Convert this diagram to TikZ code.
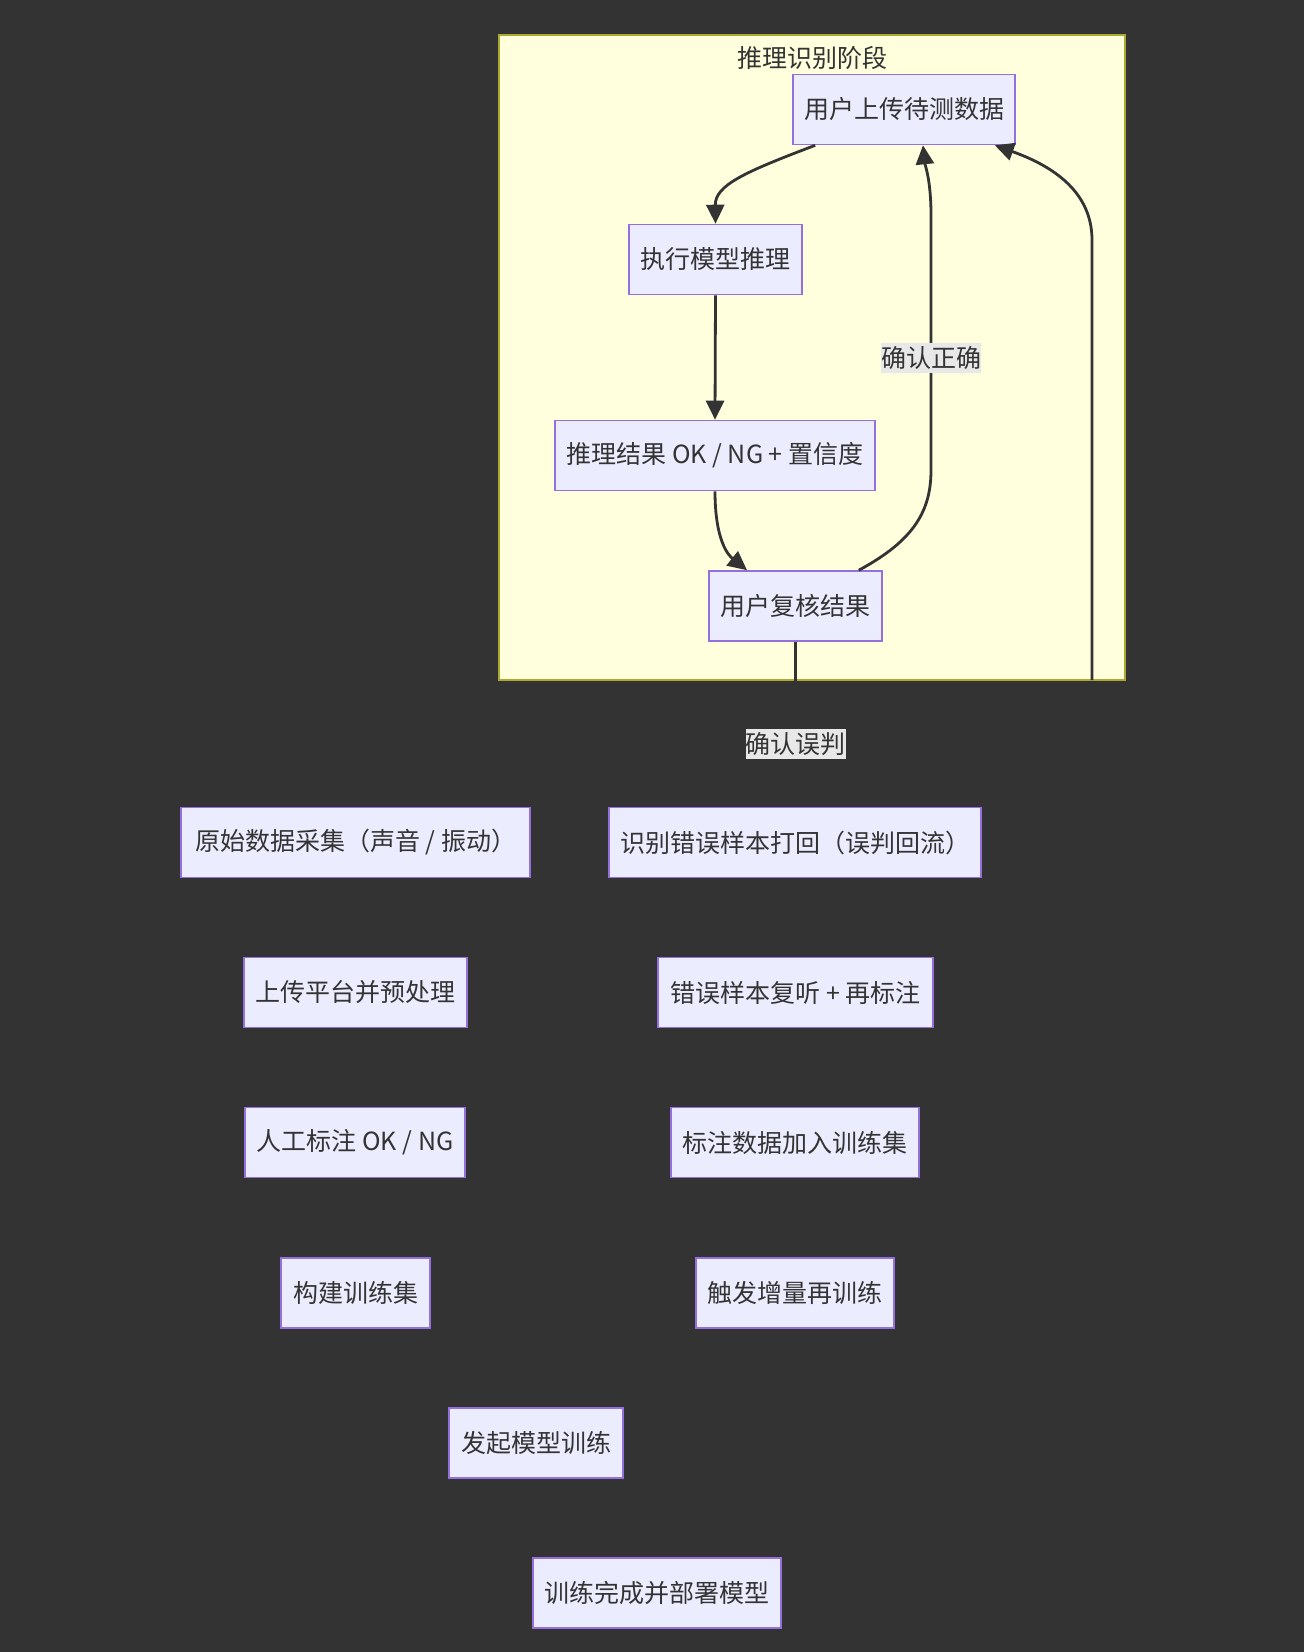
\documentclass[tikz,border=0pt]{standalone}
\usepackage{fontspec}
\setmainfont{Noto Sans CJK SC}
\usetikzlibrary{arrows.meta}
\definecolor{bg}{HTML}{333333}
\definecolor{clfill}{HTML}{FFFFDE}
\definecolor{clborder}{HTML}{AAAA33}
\definecolor{nfill}{HTML}{ECECFF}
\definecolor{nborder}{HTML}{9370DB}
\definecolor{txt}{HTML}{333333}
\definecolor{lblbg}{HTML}{E8E8E8}
\begin{document}
\begin{tikzpicture}[x=1pt,y=-1pt,
  box/.style={draw=nborder, fill=nfill, line width=1.6pt, minimum height=70pt, inner sep=0pt, text=txt, font=\fontsize{25}{30}\selectfont},
  lbl/.style={fill=lblbg, inner sep=0pt, minimum height=30pt, minimum width=98pt, text=txt, font=\fontsize{25}{30}\selectfont},
  edge/.style={draw=txt, line width=2.8pt, -{Triangle[length=19pt,width=18pt]}},
  plainedge/.style={draw=txt, line width=2.8pt}]
\useasboundingbox (0,0) rectangle (1304,1652);
\fill[bg] (0,0) rectangle (1304,1652);
% cluster
\node[draw=clborder, fill=clfill, line width=1.6pt, minimum width=626pt, minimum height=645pt, inner sep=0pt] (cl) at (812,357.5) {};
\node[text=txt, font=\fontsize{25}{30}\selectfont, inner sep=0pt] (cltitle) at (812,58) {推理识别阶段};
% nodes in cluster
\node[box, minimum width=222pt] (A) at (904,109.5) {用户上传待测数据};
\node[box, minimum width=173pt] (B) at (715.5,259.5) {执行模型推理};
\node[box, minimum width=320pt] (C) at (715,455.5) {推理结果 OK / NG + 置信度};
\node[box, minimum width=173pt] (D) at (795.5,606) {用户复核结果};
% lower nodes
\node[box, minimum width=349pt] (E) at (355.5,842.5) {原始数据采集（声音 / 振动）};
\node[box, minimum width=372pt] (F) at (795,842.5) {识别错误样本打回（误判回流）};
\node[box, minimum width=223pt] (G) at (355.5,992.5) {上传平台并预处理};
\node[box, minimum width=275pt] (H) at (795.5,992.5) {错误样本复听 + 再标注};
\node[box, minimum width=220pt] (I) at (355,1142.5) {人工标注 OK / NG};
\node[box, minimum width=248pt] (J) at (795,1142.5) {标注数据加入训练集};
\node[box, minimum width=149pt] (K) at (355.5,1293) {构建训练集};
\node[box, minimum width=198pt] (L) at (795,1293) {触发增量再训练};
\node[box, minimum width=174pt] (M) at (536,1443) {发起模型训练};
\node[box, minimum width=248pt] (N) at (657,1593) {训练完成并部署模型};
% edges
\draw[edge] ([xshift=23pt]A.south west) .. controls (745,172) and (715,185) .. (B.north);
\draw[edge] (B.south) -- (C.north);
\draw[edge] (C.south) .. controls (715,540) and (728,555) .. ([xshift=-48.5pt]D.north);
\draw[edge] ([xshift=-24pt]D.north east) .. controls (915,540) and (931,510) .. (931,470) -- (931,215) .. controls (931,180) and (925,165) .. ([xshift=19pt]A.south);
\coordinate (r0) at (1092,680);
\draw[edge] (r0) -- (1092,240) .. controls (1092,190) and (1050,165) .. ([xshift=-21pt]A.south east);
\draw[plainedge] (D.south) -- (D.south |- cl.south);
% edge labels
\node[lbl] (l1) at (931,358) {确认正确};
\node[lbl] (l2) at (795.5,744) {确认误判};
\end{tikzpicture}
\end{document}
